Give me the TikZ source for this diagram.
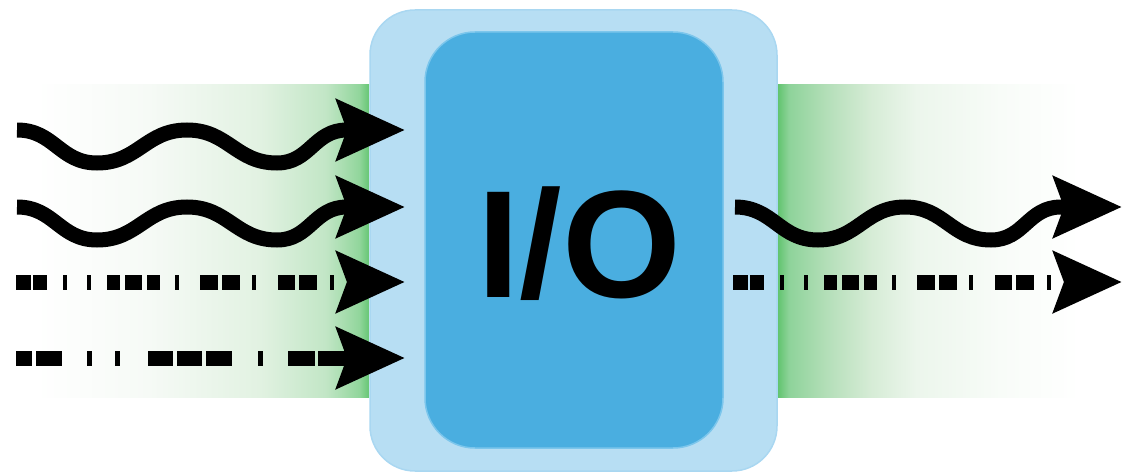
\documentclass[tikz,border=0pt]{standalone}
\usepackage{fontspec}
\usepackage{tikz}
\usetikzlibrary{arrows.meta}
\newfontfamily\iofont{Liberation Sans}

\definecolor{boxouter}{HTML}{B7DEF3}
\definecolor{boxouterline}{HTML}{A9D7F1}
\definecolor{boxinner}{HTML}{4AAEE0}
\definecolor{boxinnerline}{HTML}{7CC6EC}
\definecolor{gA}{HTML}{F6FAF6}
\definecolor{gB}{HTML}{E2F2E2}
\definecolor{gC}{HTML}{C2E6C6}
\definecolor{gD}{HTML}{92D69C}
\definecolor{gE}{HTML}{66C674}
\definecolor{gF}{HTML}{5EC36C}
\definecolor{gG}{HTML}{8ED39A}
\definecolor{gH}{HTML}{B8E0BC}
\definecolor{gI}{HTML}{D6ECD6}
\definecolor{gJ}{HTML}{ECF6EC}
\definecolor{gK}{HTML}{F8FCF8}

\pgfdeclarehorizontalshading{leftband}{100bp}{color(0bp)=(white); color(25bp)=(white);
	color(42bp)=(gA); color(58.5bp)=(gB); color(68.5bp)=(gC); color(73.5bp)=(gD);
	color(75bp)=(gE); color(100bp)=(gE)}
\pgfdeclarehorizontalshading{rightband}{100bp}{color(0bp)=(gF); color(25bp)=(gF);
	color(27bp)=(gG); color(34bp)=(gH); color(40.5bp)=(gI); color(48bp)=(gJ);
	color(62bp)=(gK); color(75bp)=(white); color(100bp)=(white)}

\tikzstyle{outerbox} = [fill=boxouter,draw=boxouterline,line width=0.3mm,rounded corners=9mm,
	minimum width=81.4mm,minimum height=92.2mm,inner sep=0]
\tikzstyle{innerbox} = [fill=boxinner,draw=boxinnerline,line width=0.3mm,rounded corners=10mm,
	minimum width=59.6mm,minimum height=83.2mm,inner sep=0]
\tikzstyle{iotext} = [font=\iofont\bfseries\fontsize{87}{87}\selectfont,inner sep=0]
\tikzstyle{tip} = [-{Stealth[length=13.6mm,width=12mm,inset=2mm]}]
\tikzstyle{wave} = [tip,line width=3mm]
\tikzstyle{bits} = [tip,line width=3mm]
\tikzstyle{hump} = [out=0,in=180,looseness=1.1]

\begin{document}
\begin{tikzpicture}[x=0.2mm,y=-0.2mm]
		\begin{scope}
		
		% define constants
		\def \a {33}
		\useasboundingbox (0,0) rectangle (1124,474);
		
		% Draw the bands
		\shade[shading=leftband] (35,84) rectangle (369,397);
		\shade[shading=rightband] (777,84) rectangle (1080,397);
		
		% Draw the boxes
		\node[outerbox] (io) at (573.5,240.5) {};
		\node[innerbox] (core) at (574,240) {};
		\node[iotext,anchor=base] (label) at (579,297) {I/O};
		
		% end points
		\coordinate (in1) at (17,130);
		\coordinate (in1e) at (405,130);
		\coordinate (in2) at (17,207);
		\coordinate (in2e) at (405,207);
		\coordinate (in3) at (16,282);
		\coordinate (in3e) at (405,282);
		\coordinate (in4) at (16,358);
		\coordinate (in4e) at (405,358);
		\coordinate (out1) at (735,207);
		\coordinate (out1e) at (1122,207);
		\coordinate (out2) at (733,282);
		\coordinate (out2e) at (1122,282);
		
		% Draw the inputs
		\draw[wave] (in1) to[hump] ++(80,\a) to[hump] ++(90,-\a) to[hump] ++(90,\a)
			to[hump] ++(70,-\a) -- (in1e);
		\draw[wave] (in2) to[hump] ++(80,\a) to[hump] ++(90,-\a) to[hump] ++(90,\a)
			to[hump] ++(70,-\a) -- (in2e);
		\draw[bits,dash pattern=on 3mm off .4mm on 2.8mm off 3.2mm on .8mm off 4mm on .8mm off 3.2mm
			on 2.6mm off 1mm on 3.4mm off 1mm on 2.6mm off 3mm on .8mm off 4.2mm on 3.6mm off .8mm
			on 3.6mm off 2.4mm on .8mm off 4.4mm on 3.4mm off .8mm on 3.6mm off 2.6mm on .8mm off 16mm]
			(in3) -- (in3e);
		\draw[bits,dash pattern=on 3.2mm off .8mm on 5.2mm off 5mm on 1mm off 4.6mm on 1mm off 5.6mm
			on 5mm off .8mm on 5mm off .8mm on 5.2mm off 5.2mm on 1mm off 5mm on 5.4mm off .6mm
			on 8mm off 8mm]
			(in4) -- (in4e);
		
		% Draw the outputs
		\draw[wave] (out1) to[hump] ++(83,\a) to[hump] ++(87,-\a) to[hump] ++(86,\a)
			to[hump] ++(70,-\a) -- (out1e);
		\draw[bits,dash pattern=on 3mm off .4mm on 2.8mm off 3.2mm on .8mm off 4mm on .8mm off 3.2mm
			on 2.6mm off 1mm on 3.4mm off 1mm on 2.6mm off 3mm on .8mm off 4.2mm on 3.6mm off .8mm
			on 3.6mm off 2.4mm on .8mm off 4.4mm on 3.4mm off .8mm on 3.6mm off 2.6mm on .8mm off 16mm]
			(out2) -- (out2e);
		
		\end{scope}
		\end{tikzpicture}
\end{document}
